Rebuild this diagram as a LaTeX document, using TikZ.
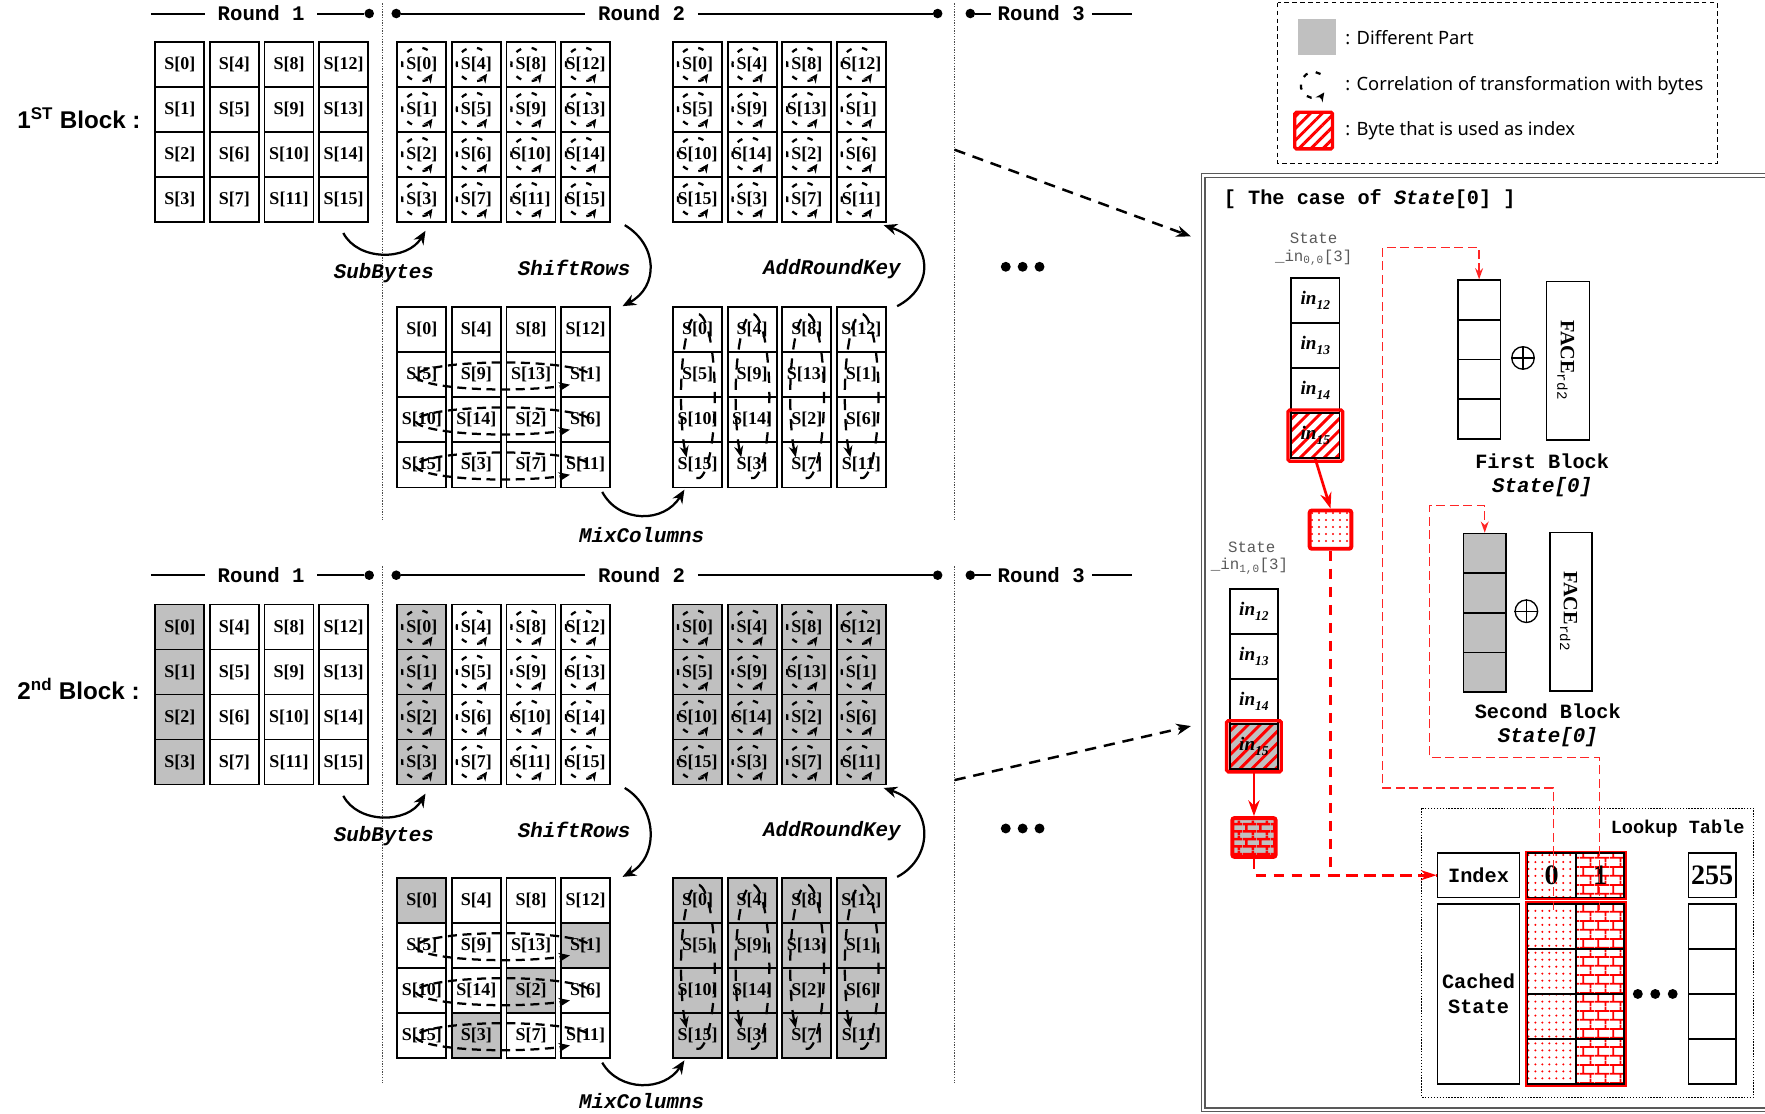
\documentclass[tikz,border=0pt]{standalone}
\usepackage{fontspec}
\setmainfont{Liberation Serif}
\setmonofont{Liberation Mono}
\setsansfont{Noto Sans}
\newfontfamily\blkfont{Liberation Sans}
\usetikzlibrary{arrows.meta,patterns,patterns.meta,calc}
\definecolor{lgray}{HTML}{C0C0C0}
\definecolor{rred}{HTML}{FF0000}
\definecolor{txtgray}{HTML}{5A5A5A}
\pgfdeclarepatternformonly{redbricks}{\pgfqpoint{0pt}{0pt}}{\pgfqpoint{13pt}{16pt}}{\pgfqpoint{13pt}{16pt}}{%
 \pgfsetlinewidth{1.6pt}%
 \pgfpathmoveto{\pgfqpoint{0pt}{4pt}}\pgfpathlineto{\pgfqpoint{13pt}{4pt}}%
 \pgfpathmoveto{\pgfqpoint{0pt}{12pt}}\pgfpathlineto{\pgfqpoint{13pt}{12pt}}%
 \pgfpathmoveto{\pgfqpoint{3pt}{4pt}}\pgfpathlineto{\pgfqpoint{3pt}{12pt}}%
 \pgfpathmoveto{\pgfqpoint{9.5pt}{12pt}}\pgfpathlineto{\pgfqpoint{9.5pt}{16pt}}%
 \pgfpathmoveto{\pgfqpoint{9.5pt}{0pt}}\pgfpathlineto{\pgfqpoint{9.5pt}{4pt}}%
 \pgfusepath{stroke}}
\pgfdeclarepatternformonly{redbricksthick}{\pgfqpoint{0pt}{0pt}}{\pgfqpoint{12pt}{13pt}}{\pgfqpoint{12pt}{13pt}}{%
 \pgfsetlinewidth{2.3pt}%
 \pgfpathmoveto{\pgfqpoint{0pt}{3.25pt}}\pgfpathlineto{\pgfqpoint{12pt}{3.25pt}}%
 \pgfpathmoveto{\pgfqpoint{0pt}{9.75pt}}\pgfpathlineto{\pgfqpoint{12pt}{9.75pt}}%
 \pgfpathmoveto{\pgfqpoint{3pt}{3.25pt}}\pgfpathlineto{\pgfqpoint{3pt}{9.75pt}}%
 \pgfpathmoveto{\pgfqpoint{9pt}{9.75pt}}\pgfpathlineto{\pgfqpoint{9pt}{13pt}}%
 \pgfpathmoveto{\pgfqpoint{9pt}{0pt}}\pgfpathlineto{\pgfqpoint{9pt}{3.25pt}}%
 \pgfusepath{stroke}}
\newcommand\cellfont{\fontsize{16}{16}\selectfont\bfseries}
\newcommand\oplabel{\ttfamily\bfseries\itshape\fontsize{18.5}{18.5}\selectfont}
\newcommand\rndfont{\ttfamily\bfseries\fontsize{18.4}{18.4}\selectfont}
\newcommand\cfont{\ttfamily\bfseries\fontsize{18}{18}\selectfont}
\newcommand\inlab[1]{\bfseries\itshape in\raisebox{-4pt}{\fontsize{12}{12}\selectfont#1}}
\tikzset{
 cell/.style={draw, line width=1.6pt, minimum width=43.5pt, minimum height=40pt, inner sep=0pt, font=\cellfont},
 dcirc/.style={line width=2pt, dash pattern=on 5pt off 9.5pt, -{Stealth[length=8pt,width=7.5pt]}},
 dellr/.style={line width=2pt, dash pattern=on 8pt off 5pt, -{Stealth[length=10pt,width=8pt]}},
 dellc/.style={line width=2pt, dash pattern=on 10pt off 8pt, -{Stealth[length=10pt,width=8pt]}},
 bigarr/.style={line width=2pt, -{Stealth[length=12pt,width=10pt]}},
 bigdash/.style={line width=2.2pt, dash pattern=on 10pt off 7pt, -{Stealth[length=13pt,width=10pt]}},
 hdr/.style={line width=1.8pt},
 hdot/.style={circle, fill, inner sep=0pt, minimum size=8.5pt},
 bdot/.style={circle, fill, inner sep=0pt, minimum size=8.8pt},
 vdot/.style={line width=0.9pt, gray!60!black, dash pattern=on 1.2pt off 1.2pt},
 lbl/.style={font=\oplabel},
 incell/.style={draw, line width=1.5pt, minimum width=43pt, minimum height=40pt, inner sep=0pt, font=\fontsize{17}{17}\selectfont},
 blkcell/.style={draw, line width=1.5pt, minimum width=38pt, minimum height=35.25pt, inner sep=0pt},
 lkcell/.style={draw, line width=1.5pt, minimum width=43pt, minimum height=39.5pt, inner sep=0pt},
 hatch/.style={pattern={Lines[angle=45,distance=7.5pt,line width=2.6pt]}, pattern color=rred},
 dotpat/.style={pattern={Dots[distance=6.2pt,radius=1pt]}, pattern color=rred},
 brickpat/.style={pattern=redbricks, pattern color=rred},
 rframe/.style={draw=rred, line width=3pt, rounded corners=1.5pt},
 rarr/.style={rred, line width=2.4pt, -{Stealth[length=14pt,width=10pt]}},
 rthin/.style={rred!85!white, line width=1.3pt, dash pattern=on 8pt off 4pt},
 rthick/.style={rred, line width=2.4pt, dash pattern=on 9pt off 7pt},
 graytxt/.style={text=txtgray, font=\ttfamily\fontsize{14}{14}\selectfont, inner sep=0pt},
 legtxt/.style={anchor=west, font=\sffamily\fontsize{16.3}{16.3}\selectfont, inner sep=0pt},
}
\newcommand\stgrid[6]{%
\foreach \cc in {0,...,3}{\foreach \rr in {0,...,3}{%
 \pgfmathtruncatemacro\lab{ifthenelse(#4==1,4*mod(\cc+\rr,4)+\rr,4*\cc+\rr)}%
 \pgfmathtruncatemacro\isg{ifthenelse(#5==2,1,ifthenelse(#5==1,ifthenelse(\lab<4,1,0),0))}%
 \ifnum\isg=1 \def\fc{lgray}\else\def\fc{white}\fi
 \node[cell,fill=\fc] (#1-\rr-\cc) at ({#2+\cc*48.5+21.75},{#3+\rr*40+20}) {S[\lab]};
 \ifnum#6=1\relax
   \draw[dcirc] ({#2+\cc*48.5+19.05},{#3+\rr*40+20}) ++(-58:14.8) arc[start angle=-58,end angle=-325,radius=14.8];
 \fi
}}%
\ifnum#6=2\relax
 \foreach \rr in {1,2,3}{\draw[dellr] ({#2+94},{#3+\rr*40+21}) ++(-15:77.5 and 12) arc[start angle=-15,end angle=-320,x radius=77.5,y radius=12];}
\fi
\ifnum#6=3\relax
 \foreach \cc in {0,...,3}{\draw[dellc] ({#2+\cc*48.5+22},{#3+79}) ++(-265:15 and 73) arc[start angle=-265,end angle=-588,x radius=15,y radius=73];}
\fi
}
\newcommand\hdrs[2]{%
 \node[font=\rndfont] (#2r1) at (232,#1) {Round 1};
 \node[font=\rndfont] (#2r2) at (570,#1) {Round 2};
 \node[font=\rndfont] (#2r3) at (925,#1) {Round 3};
 \node[hdot] (#2d1) at (328,#1) {};
 \node[hdot] (#2d2) at (352,#1) {};
 \node[hdot] (#2d3) at (833,#1) {};
 \node[hdot] (#2d4) at (862,#1) {};
 \draw[hdr] (134,#1) -- (182,#1);
 \draw[hdr] (282,#1) -- (#2d1);
 \draw[hdr] (#2d2) -- (520,#1);
 \draw[hdr] (620,#1) -- (#2d3);
 \draw[hdr] (#2d4) -- (880,#1);
 \draw[hdr] (970,#1) -- (1006,#1);
}
\begin{document}
\begin{tikzpicture}[x=1pt,y=-1pt]
\useasboundingbox (0,0) rectangle (1568,989);
% ---------- dotted round separators
\draw[vdot] (340,3) -- (340,462);
\draw[vdot] (848,3) -- (848,462);
\draw[vdot] (340,503) -- (340,962);
\draw[vdot] (848,503) -- (848,962);
\hdrs{12}{a}
\hdrs{511}{b}
% ---------- block labels
\node[anchor=west, font=\blkfont\bfseries\fontsize{21.5}{21.5}\selectfont] (blk1) at (12,105) {1\textsuperscript{ST} Block :};
\node[anchor=west, font=\blkfont\bfseries\fontsize{21.5}{21.5}\selectfont] (blk2) at (12,612) {2\textsuperscript{nd} Block :};
% ---------- grids block 1
\stgrid{a1}{138}{37}{0}{0}{0}
\stgrid{a2}{353}{37}{0}{0}{1}
\stgrid{a3}{353}{273}{1}{0}{2}
\stgrid{a4}{598}{273}{1}{0}{3}
\stgrid{a5}{598}{37}{1}{0}{1}
% ---------- grids block 2
\stgrid{b1}{138}{537}{0}{1}{0}
\stgrid{b2}{353}{537}{0}{1}{1}
\stgrid{b3}{353}{780}{1}{1}{2}
\stgrid{b4}{598}{780}{1}{2}{3}
\stgrid{b5}{598}{537}{1}{2}{1}
% ---------- operation arrows block 1
\draw[bigarr] (305,207) .. controls (318,232) and (362,232) .. (378,205);
\draw[bigarr] (555,200) .. controls (585,218) and (585,255) .. (553,272);
\draw[bigarr] (797,272) .. controls (830,255) and (830,215) .. (785,200);
\draw[bigarr] (535,437) .. controls (550,465) and (590,465) .. (608,435);
\node[lbl] (sb1) at (341,243) {SubBytes};
\node[lbl] (sr1) at (510,238) {ShiftRows};
\node[lbl] (ak1) at (739,239) {AddRoundKey};
\node[lbl] (mc1) at (570,475) {MixColumns};
% ---------- operation arrows block 2
\draw[bigarr] (305,707) .. controls (318,732) and (362,732) .. (378,705);
\draw[bigarr] (555,700) .. controls (585,718) and (585,762) .. (553,779);
\draw[bigarr] (797,779) .. controls (830,762) and (830,715) .. (785,700);
\draw[bigarr] (535,944) .. controls (550,970) and (590,970) .. (608,942);
\node[lbl] (sb2) at (341,743) {SubBytes};
\node[lbl] (sr2) at (510,737) {ShiftRows};
\node[lbl] (ak2) at (739,738) {AddRoundKey};
\node[lbl] (mc2) at (570,978) {MixColumns};
% ---------- ellipsis dots
\node[bdot] (e1) at (893.5,237) {}; \node[bdot] (e2) at (908.5,237) {}; \node[bdot] (e3) at (923.5,237) {};
\node[bdot] (f1) at (893.5,736) {}; \node[bdot] (f2) at (908.5,736) {}; \node[bdot] (f3) at (923.5,736) {};
% ---------- big dashed arrows
\coordinate (da1) at (848,133); \coordinate (da2) at (1058,210);
\coordinate (db1) at (848,693); \coordinate (db2) at (1058,645);
\draw[bigdash] (da1) -- (da2);
\draw[bigdash] (db1) -- (db2);
% ---------- legend
\draw[line width=1.1pt, dash pattern=on 4pt off 3pt] (1135,2.5) rectangle (1525.5,145.5);
\node[fill=lgray, minimum width=34pt, minimum height=32pt, inner sep=0pt] (lg1) at (1170,32.5) {};
\node[legtxt] (lt1) at (1195,33) {: Different Part};
\draw[dcirc, dash pattern=on 4.5pt off 7.5pt] (1167,75.5) ++(-58:11.5) arc[start angle=-58,end angle=-325,radius=11.5];
\node[legtxt] (lt2) at (1195,76.5) {: Correlation of transformation with bytes};
\node[hatch, minimum width=31pt, minimum height=30pt, inner sep=0pt] (lg3) at (1167,116) {};
\draw[rframe] (lg3.south west) rectangle (lg3.north east);
\node[legtxt] (lt3) at (1195,116.5) {: Byte that is used as index};
% ---------- right panel
\draw[gray!70!black, line width=1.3pt, double=white, double distance=2pt] (1069,156) rectangle (1590,986);
\node[anchor=west, font=\cfont, inner sep=0pt] (title) at (1087,177) {[ The case of \textit{State}[0] ]};
% first in column
\node[graytxt] (st1) at (1167,212) {State};
\node[graytxt] (st1b) at (1167,229) {\_in\textsubscript{0,0}[3]};
\node[incell] (ia0) at (1168.5,267) {\inlab{12}};
\node[incell] (ia1) at (1168.5,307) {\inlab{13}};
\node[incell] (ia2) at (1168.5,347) {\inlab{14}};
\node[incell, hatch] (ia3) at (1168.5,387) {\inlab{15}};
\draw[rframe] ($(ia3.south west)+(-2,2)$) rectangle ($(ia3.north east)+(2,-2)$);
\node[draw=rred, line width=3.5pt, rounded corners=2pt, minimum width=37pt, minimum height=34pt, inner sep=0pt, dotpat] (dotbox) at (1182,470.5) {};
\draw[rarr] (ia3.south) -- (dotbox.north);
% second in column
\node[graytxt] (st2) at (1112,486) {State};
\node[graytxt] (st2b) at (1110,503) {\_in\textsubscript{1,0}[3]};
\node[incell] (ib0) at (1114,543) {\inlab{12}};
\node[incell] (ib1) at (1114,583) {\inlab{13}};
\node[incell] (ib2) at (1114,623) {\inlab{14}};
\node[incell, hatch, preaction={fill=lgray}] (ib3) at (1114,663) {\inlab{15}};
\draw[rframe] ($(ib3.south west)+(-2,2)$) rectangle ($(ib3.north east)+(2,-2)$);
\node[draw=rred, line width=3.5pt, rounded corners=2pt, minimum width=38.5pt, minimum height=34.5pt, inner sep=0pt, preaction={fill=lgray}, pattern=redbricksthick, pattern color=rred] (brickbox) at (1114,744) {};
\draw[rarr] (ib3.south) -- (brickbox.north);
% first block state
\foreach \i in {0,...,3}{\node[blkcell] (fb\i) at (1314,{249+17.625+\i*35.25}) {};}
\node[circle, draw, line width=1.2pt, minimum size=20pt, inner sep=0pt] (x1) at (1353,318) {};
\draw[line width=1.2pt] (x1.north) -- (x1.south) (x1.west) -- (x1.east);
\node[draw, line width=1.5pt, minimum width=38pt, minimum height=141pt, inner sep=0pt] (face1) at (1393,320.5) {};
\node[rotate=-90, font=\bfseries\fontsize{18}{18}\selectfont] (face1t) at (1391,320) {FACE\textsubscript{\ttfamily\mdseries rd2}};
\node[font=\cfont] (fbl) at (1370,410) {First Block};
\node[font=\oplabel] (fbs) at (1370,433) {State[0]};
% second block state
\foreach \i in {0,...,3}{\node[blkcell, fill=lgray] (sb\i) at (1319,{474+17.625+\i*35.25}) {};}
\node[circle, draw, line width=1.2pt, minimum size=20pt, inner sep=0pt] (x2) at (1356,543) {};
\draw[line width=1.2pt] (x2.north) -- (x2.south) (x2.west) -- (x2.east);
\node[draw, line width=1.5pt, minimum width=37pt, minimum height=141pt, inner sep=0pt] (face2) at (1395.5,543.5) {};
\node[rotate=-90, font=\bfseries\fontsize{18}{18}\selectfont] (face2t) at (1393.5,543) {FACE\textsubscript{\ttfamily\mdseries rd2}};
\node[font=\cfont] (sbl) at (1375,632) {Second Block};
\node[font=\oplabel] (sbs) at (1375,655) {State[0]};
% lookup table
\draw[line width=1.2pt, dash pattern=on 1.2pt off 1.4pt] (1263,718) rectangle (1558,975);
\node[font=\ttfamily\bfseries\fontsize{16.5}{16.5}\selectfont, anchor=east, inner sep=0pt] (lkt) at (1550,736) {Lookup Table};
\node[lkcell, minimum width=73pt, font=\cfont] (idx) at (1313.5,777.5) {Index};
\node[lkcell, minimum width=73pt, minimum height=160pt, align=center, font=\cfont] (cst) at (1313.5,883) {Cached\\[4pt]State};
\draw[rred, line width=1.8pt] (1355.5,756.5) rectangle (1444.5,798.5);
\draw[rred, line width=1.8pt] (1355.5,801.5) rectangle (1444.5,964.5);
\node[lkcell, dotpat, font=\bfseries\fontsize{25}{25}\selectfont] (ix0) at (1378.5,777.5) {0};
\node[lkcell, brickpat, font=\bfseries\fontsize{25}{25}\selectfont] (ix1) at (1421.5,777.5) {1};
\node[lkcell, minimum width=42pt, font=\bfseries\fontsize{25}{25}\selectfont] (ix255) at (1521,777.5) {255};
\foreach \i in {0,...,3}{
 \node[lkcell, minimum height=40pt, dotpat] (d0\i) at (1378.5,{823+\i*40}) {};
 \node[lkcell, minimum height=40pt, brickpat] (d1\i) at (1421.5,{823+\i*40}) {};
 \node[lkcell, minimum width=42pt, minimum height=40pt] (d2\i) at (1521,{823+\i*40}) {};
}
\node[bdot] (g1) at (1455,883) {}; \node[bdot] (g2) at (1470.5,883) {}; \node[bdot] (g3) at (1486,883) {};
% red routes
\draw[rthin, -{Stealth[length=10pt,width=7pt]}] (1380,808) -- (1380,700) -- (1228,700) -- (1228,220) -- (1314,220) -- (fb0.north);
\draw[rthin, -{Stealth[length=10pt,width=7pt]}] (1421,808) -- (1421,673) -- (1270,673) -- (1270,449) -- (1319,449) -- (sb0.north);
\draw[rthick] (brickbox.south) -- (1114,777.5) -- (idx.west);
\draw[rthick, -{Stealth[length=14pt,width=9pt]}] (dotbox.south) -- (1182,777.5) -- (idx.west);
\end{tikzpicture}
\end{document}
